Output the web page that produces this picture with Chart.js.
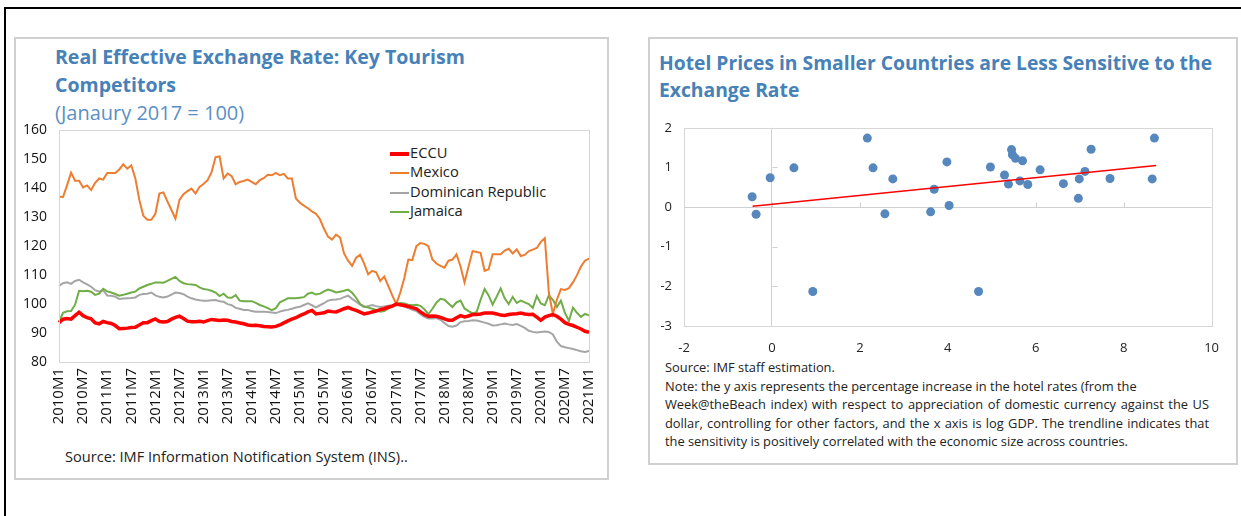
<!DOCTYPE html>
<html>
<head>
<meta charset="utf-8">
<script src="https://cdn.jsdelivr.net/npm/chart.js@4.4.0/dist/chart.umd.min.js"></script>
<style>
  body { margin:0; background:#fff; width:1241px; height:516px; overflow:hidden; position:relative; font-family:"Open Sans", sans-serif; }
  .frame { position:absolute; left:4px; top:7px; width:1300px; height:600px; border:2px solid #000; }
  .panel { position:absolute; border:2px solid #d0d0d0; background:#fff; }
  .title { position:absolute; color:#4681b8; font-weight:bold; font-size:19.5px; line-height:28px; white-space:nowrap; }
  .sub { position:absolute; color:#5b90c4; font-size:20px; white-space:nowrap; }
  .note { position:absolute; color:#222; font-size:12.85px; line-height:18.5px; white-space:nowrap; }
  .lg { position:absolute; font-size:14.7px; color:#222; white-space:nowrap; line-height:19.3px; }
  .lg span { display:inline-block; width:19px; vertical-align:middle; margin-right:1px; }
  canvas { position:absolute; }
</style>
</head>
<body>
<div class="frame"></div>
<div class="panel" style="left:14px;top:37px;width:591px;height:439px;"></div>
<div class="panel" style="left:648px;top:37px;width:586px;height:424px;"></div>

<div class="title" style="left:55px;top:43px;">Real Effective Exchange Rate: Key Tourism<br>Competitors</div>
<div class="sub" style="left:55px;top:99px;">(Janaury 2017 = 100)</div>
<div class="note" style="left:65px;top:447px;font-size:14.6px;">Source: IMF Information Notification System (INS)..</div>

<div class="lg" style="left:390px;top:143px;">
  <div><span style="border-top:4px solid #ff0000;"></span>ECCU</div>
  <div><span style="border-top:2px solid #ed7d31;"></span>Mexico</div>
  <div><span style="border-top:2px solid #a5a5a5;"></span>Dominican Republic</div>
  <div><span style="border-top:2px solid #70ad47;"></span>Jamaica</div>
</div>

<div class="title" style="left:659px;top:49px;line-height:27px;font-size:19.3px;">Hotel Prices in Smaller Countries are Less Sensitive to the<br>Exchange Rate</div>
<div class="note" style="left:665px;top:358px;">
  <div>Source: IMF staff estimation.</div>
  <div>Note: the y axis represents the percentage increase in the hotel rates (from the</div>
  <div style="width:544px;text-align:justify;text-align-last:justify;">Week@theBeach index) with respect to appreciation of domestic currency against the US</div>
  <div style="width:544px;text-align:justify;text-align-last:justify;">dollar, controlling for other factors, and the x axis is log GDP. The trendline indicates that</div>
  <div>the sensitivity is positively correlated with the economic size across countries.</div>
</div>

<canvas id="reer" width="598" height="330" style="left:15px;top:110px;"></canvas>
<canvas id="hotel" width="583" height="254" style="left:650px;top:108px;"></canvas>

<script>
// monthly categories 2010M1 .. 2021M1
var months = [];
for (var yr = 2010; yr <= 2021; yr++) {
  for (var mo = 1; mo <= 12; mo++) {
    if (yr === 2021 && mo > 1) break;
    months.push(yr + 'M' + mo);
  }
}

var eccu = [
  93.6, 94.8, 95.0, 94.8, 96.0, 97.2, 96.0, 95.3, 94.9, 93.5, 93.2, 94.0,
  93.6, 93.3, 92.6, 91.5, 91.6, 91.7, 91.9, 92.0, 92.8, 93.6, 93.6, 94.3,
  94.9, 94.0, 93.8, 94.0, 94.8, 95.4, 95.8, 95.0, 94.1, 93.9, 93.9, 94.1,
  93.8, 94.3, 94.7, 94.5, 94.3, 94.5, 94.4, 94.0, 93.8, 93.5, 93.2, 92.8,
  92.6, 92.7, 92.5, 92.3, 92.2, 92.1, 92.3, 92.8, 93.5, 94.2, 94.8, 95.3,
  96.0, 96.6, 97.3, 97.8, 96.6, 96.8, 97.0, 97.6, 97.4, 97.3, 97.8, 98.4,
  98.9, 98.3, 97.8, 97.2, 96.6, 96.9, 97.3, 97.6, 98.1, 98.4, 98.9, 99.3,
  100.0, 99.8, 99.5, 99.2, 98.8, 98.4, 97.3, 96.4, 95.8, 95.9, 95.8, 95.4,
  94.9, 94.4, 94.4, 95.3, 96.0, 95.6, 95.9, 96.4, 96.4, 96.6, 96.9, 96.9,
  96.9, 96.6, 96.2, 96.1, 96.4, 96.6, 96.7, 96.9, 96.6, 96.4, 96.5, 95.5,
  94.4, 95.5, 96.0, 96.4, 95.8, 94.8, 93.6, 93.0, 92.6, 92.0, 91.4, 90.6,
  90.3
];
var mexico = [
  137.1, 137.0, 141.0, 145.4, 142.6, 142.6, 140.3, 141.0, 139.4, 141.9, 143.4, 143.0,
  145.3, 145.3, 145.3, 146.5, 148.3, 146.8, 147.9, 143.5, 136.0, 130.5, 129.1, 129.1,
  131.2, 138.2, 138.6, 135.5, 132.5, 129.5, 136.0, 138.0, 139.0, 139.9, 138.2, 140.5,
  141.5, 142.8, 145.6, 150.8, 151.0, 143.4, 145.1, 144.2, 141.4, 142.2, 142.5, 143.0,
  142.2, 141.4, 142.8, 143.5, 144.7, 144.5, 145.3, 144.5, 145.0, 143.4, 143.4, 136.5,
  135.0, 134.0, 133.1, 132.0, 131.2, 129.3, 126.0, 123.3, 122.3, 124.0, 123.0, 117.5,
  115.0, 113.2, 116.0, 117.0, 114.0, 110.3, 111.5, 111.0, 108.0, 109.5, 106.3, 103.0,
  100.0, 104.0, 109.0, 115.4, 115.2, 120.0, 121.1, 120.8, 120.0, 115.4, 114.0, 113.2,
  112.6, 115.0, 115.4, 117.2, 113.0, 107.5, 113.0, 118.3, 118.0, 117.7, 111.5, 112.0,
  117.2, 117.2, 117.2, 118.5, 119.1, 117.5, 118.9, 116.6, 117.0, 118.3, 118.8, 119.4,
  121.5, 122.8, 104.0, 96.6, 101.5, 105.2, 104.9, 105.5, 107.5, 110.0, 113.0, 115.0,
  115.7
];
var dominican = [
  106.3, 107.2, 107.5, 107.0, 108.0, 108.4, 107.5, 106.8, 106.0, 104.8, 104.3, 104.8,
  103.0, 102.9, 102.6, 101.8, 101.9, 102.0, 102.1, 102.3, 103.2, 103.5, 103.6, 104.0,
  103.0, 102.5, 102.3, 102.6, 103.3, 104.0, 103.8, 103.4, 102.6, 102.0, 101.6, 101.3,
  101.2, 101.2, 101.3, 101.4, 101.0, 100.8, 100.0, 99.6, 98.7, 98.4, 98.0, 98.0,
  97.6, 97.4, 97.4, 97.4, 97.3, 97.1, 96.9, 97.4, 97.8, 98.0, 98.4, 98.8,
  99.1, 99.7, 100.3, 99.6, 98.9, 99.6, 100.3, 101.2, 101.5, 101.6, 101.8, 102.4,
  102.9, 101.8, 100.8, 99.8, 98.9, 99.3, 99.7, 99.3, 99.0, 99.2, 99.4, 99.6,
  100.0, 99.6, 99.2, 98.6, 98.0, 97.6, 96.5, 95.6, 95.0, 95.0, 95.2, 94.6,
  93.5, 92.4, 92.2, 92.6, 93.8, 94.1, 94.2, 94.4, 94.3, 94.0, 93.6, 93.2,
  92.6, 92.7, 93.0, 93.3, 93.0, 92.8, 93.1, 92.5, 91.8, 90.8, 90.4, 90.2,
  90.4, 90.5, 90.4, 89.5, 87.0, 85.5, 85.1, 84.8, 84.5, 84.1, 83.7, 83.5,
  83.8
];
var jamaica = [
  93.9, 97.0, 97.5, 97.6, 99.8, 104.6, 104.4, 104.6, 104.3, 103.2, 103.6, 105.3,
  104.4, 104.0, 103.5, 102.9, 103.2, 103.6, 104.0, 104.3, 105.4, 106.0, 106.6, 107.0,
  107.5, 107.5, 107.4, 108.0, 108.7, 109.4, 108.0, 107.2, 106.9, 106.8, 106.6, 105.8,
  105.2, 105.0, 104.6, 104.0, 102.8, 103.6, 102.3, 102.2, 103.1, 101.2, 101.0, 101.0,
  101.0, 100.4, 99.7, 99.2, 98.6, 97.9, 98.6, 100.6, 101.3, 102.0, 102.0, 102.0,
  102.2, 102.4, 103.6, 104.0, 103.3, 103.6, 104.4, 105.0, 104.6, 104.0, 104.3, 104.6,
  105.0, 103.9, 102.2, 100.0, 99.2, 98.8, 98.4, 98.0, 97.4, 97.6, 98.4, 99.2,
  100.0, 100.4, 100.2, 99.8, 99.6, 99.8, 99.4, 98.2, 96.5, 98.4, 100.5, 101.8,
  101.5, 100.2, 99.0, 100.6, 101.2, 98.5, 97.6, 96.8, 97.2, 101.5, 105.2, 103.0,
  99.8, 102.6, 105.4, 102.0, 100.0, 102.5, 100.4, 101.2, 100.6, 100.0, 98.7, 102.8,
  100.2, 99.6, 103.0, 101.5, 99.0, 101.2, 97.0, 94.2, 98.8, 97.0, 95.6, 96.6,
  96.1
];
var reerTicks = [80, 90, 100, 110, 120, 130, 140, 150, 160];

// scatter: x = log GDP, y = hotel price sensitivity
var logGdp = [-0.45, -0.36, -0.04, 0.50, 0.93, 2.17, 2.30, 2.57, 2.75, 3.61, 3.69, 3.98, 4.03, 4.70, 4.97, 5.29,
  5.38, 5.45, 5.47, 5.54, 5.70, 5.64, 5.82, 6.10, 6.63, 6.97, 6.99, 7.12, 7.26, 7.69, 8.65, 8.70];
var hotelSens = [0.26, -0.18, 0.74, 0.99, -2.13, 1.74, 0.99, -0.17, 0.71, -0.12, 0.45, 1.14, 0.04, -2.13, 1.01, 0.81,
  0.58, 1.45, 1.32, 1.23, 1.17, 0.66, 0.57, 0.94, 0.59, 0.22, 0.71, 0.90, 1.46, 0.72, 0.71, 1.74];
var trendX = [-0.44, 8.74];
var trendY = [0.02, 1.05];

Chart.defaults.font.family = "'Open Sans', sans-serif";
Chart.defaults.color = '#222';
Chart.defaults.animation = false;

var plotBox = {
  id: 'plotBox',
  afterDraw: function (chart) {
    var a = chart.chartArea, c = chart.ctx;
    c.save();
    c.strokeStyle = '#d6d6d6';
    c.lineWidth = 1;
    c.strokeRect(Math.round(a.left) + 0.5, Math.round(a.top) + 0.5, Math.round(a.right - a.left), Math.round(a.bottom - a.top));
    c.restore();
  }
};

var zeroTicks = {
  id: 'zeroTicks',
  beforeDatasetsDraw: function (chart) {
    var xs = chart.scales.x, ys = chart.scales.y, c = chart.ctx;
    var x0 = Math.round(xs.getPixelForValue(0)) + 0.5, y0 = Math.round(ys.getPixelForValue(0)) + 0.5;
    c.save();
    c.strokeStyle = '#d0d0d0';
    c.lineWidth = 1;
    c.beginPath();
    xs.ticks.forEach(function (t) {
      var px = Math.round(xs.getPixelForValue(t.value)) + 0.5;
      c.moveTo(px, y0); c.lineTo(px, y0 - 5);
    });
    ys.ticks.forEach(function (t) {
      var py = Math.round(ys.getPixelForValue(t.value)) + 0.5;
      c.moveTo(x0, py); c.lineTo(x0 + 5, py);
    });
    c.stroke();
    c.restore();
  }
};

function myLoadFunction() {
  var reerCtx = document.getElementById('reer').getContext('2d');
  new Chart(reerCtx, {
    type: 'line',
    data: {
      labels: months,
      datasets: [
        { label: 'ECCU', data: eccu, borderColor: '#ff0000', borderWidth: 3.5, order: 0 },
        { label: 'Mexico', data: mexico, borderColor: '#ed7d31', borderWidth: 2, order: 1 },
        { label: 'Dominican Republic', data: dominican, borderColor: '#a5a5a5', borderWidth: 2, order: 3 },
        { label: 'Jamaica', data: jamaica, borderColor: '#70ad47', borderWidth: 2, order: 2 }
      ]
    },
    options: {
      responsive: false,
      elements: { point: { radius: 0 }, line: { tension: 0 } },
      layout: { padding: { top: 2, right: 6, left: 0, bottom: 0 } },
      plugins: { legend: { display: false }, tooltip: { enabled: false } },
      scales: {
        x: {
          grid: { display: false, drawTicks: false },
          border: { display: false },
          ticks: {
            autoSkip: false, minRotation: 90, maxRotation: 90, padding: 6,
            font: { size: 15 }, color: '#111',
            callback: function (val, idx) { return idx % 6 === 0 ? this.getLabelForValue(val) : null; }
          },
          afterFit: function (axis) { axis.height = 78; }
        },
        y: {
          min: 80, max: 160,
          grid: { display: false, drawTicks: false },
          border: { display: false },
          afterBuildTicks: function (axis) { axis.ticks = reerTicks.map(function (v) { return { value: v }; }); },
          ticks: { padding: 12, font: { size: 14 }, color: '#111' },
          afterFit: function (axis) { axis.width = 44; }
        }
      }
    },
    plugins: [plotBox]
  });

  var hotelCtx = document.getElementById('hotel').getContext('2d');
  new Chart(hotelCtx, {
    type: 'scatter',
    data: {
      datasets: [
        {
          type: 'line', label: 'Trend', order: 0,
          data: trendX.map(function (x, i) { return { x: x, y: trendY[i] }; }),
          borderColor: '#ff0000', borderWidth: 1.5, pointRadius: 0
        },
        {
          label: 'Countries', order: 1,
          data: logGdp.map(function (x, i) { return { x: x, y: hotelSens[i] }; }),
          backgroundColor: '#5687bd', borderWidth: 0, pointRadius: 4.5
        }
      ]
    },
    options: {
      responsive: false,
      layout: { padding: { top: 3, right: 4, left: 0, bottom: 0 } },
      plugins: { legend: { display: false }, tooltip: { enabled: false } },
      scales: {
        x: {
          type: 'linear', min: -2, max: 10,
          ticks: { stepSize: 2, padding: 14, font: { size: 13 }, color: '#222' },
          grid: { drawTicks: false, color: function (c) { return c.tick && c.tick.value === 0 ? '#d0d0d0' : 'rgba(0,0,0,0)'; } },
          border: { display: false },
          afterFit: function (axis) { axis.height = 36; }
        },
        y: {
          min: -3, max: 2,
          ticks: { stepSize: 1, padding: 12, font: { size: 13 }, color: '#222' },
          grid: { drawTicks: false, color: function (c) { return c.tick && c.tick.value === 0 ? '#d0d0d0' : 'rgba(0,0,0,0)'; } },
          border: { display: false },
          afterFit: function (axis) { axis.width = 34; }
        }
      }
    },
    plugins: [plotBox, zeroTicks]
  });
}

document.addEventListener('DOMContentLoaded', myLoadFunction);
</script>
</body>
</html>
